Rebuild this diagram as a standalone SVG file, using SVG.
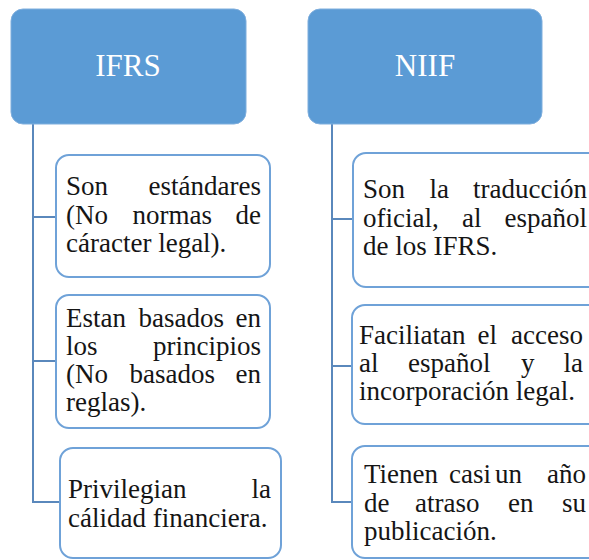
<svg xmlns="http://www.w3.org/2000/svg" width="589" height="560" viewBox="0 0 589 560">
<style>
.hdr{fill:#5B9BD5;stroke:#7FAEDD;stroke-width:1}
.hdrt{font-family:'Liberation Serif','Times New Roman',serif;font-size:31px;fill:#FFFFFF;text-anchor:middle}
.box{fill:#FFFFFF;stroke:#6FA2D8;stroke-width:2}
.t{font-family:'Liberation Serif','Times New Roman',serif;font-size:27px;fill:#151515}
.e{text-anchor:end}
.con{fill:none;stroke:#5A88BC;stroke-width:2}
</style>
<rect width="589" height="560" fill="#FFFFFF"/>
<g id="connectors">
<path class="con" d="M33,124 V502 H60 M33,217 H56 M33,361 H56"/>
<path class="con" d="M332,124 V502 H352 M332,219 H353 M332,366 H352"/>
</g>
<g id="ifrs">
<rect class="hdr" x="11" y="9" width="235" height="115" rx="12"/>
<text class="hdrt" x="128" y="76">IFRS</text>
</g>
<g id="niif">
<rect class="hdr" x="308" y="9" width="234" height="115" rx="12"/>
<text class="hdrt" x="425" y="76">NIIF</text>
</g>
<g id="ifrs1">
<rect class="box" x="56" y="155" width="214" height="122" rx="13"/>
<text class="t" x="66" y="195">Son</text><text class="t e" x="261" y="195">estándares</text>
<text class="t" x="66" y="223.5">(No</text><text class="t" x="132.5" y="223.5">normas</text><text class="t e" x="261" y="223.5">de</text>
<text class="t" x="66" y="252">cáracter legal).</text>
</g>
<g id="ifrs2">
<rect class="box" x="56" y="295" width="214" height="133" rx="13"/>
<text class="t" x="66" y="327">Estan</text><text class="t" x="138.5" y="327">basados</text><text class="t e" x="261" y="327">en</text>
<text class="t" x="66" y="355">los</text><text class="t e" x="261" y="355">principios</text>
<text class="t" x="66" y="383">(No</text><text class="t" x="129.5" y="383">basados</text><text class="t e" x="261" y="383">en</text>
<text class="t" x="66" y="411">reglas).</text>
</g>
<g id="ifrs3">
<rect class="box" x="60" y="448" width="221" height="110" rx="13"/>
<text class="t" x="68" y="498">Privilegian</text><text class="t e" x="271" y="498">la</text>
<text class="t" x="68" y="527">cálidad financiera.</text>
</g>
<g id="niif1">
<rect class="box" x="353" y="153" width="250" height="134" rx="13"/>
<text class="t" x="363" y="198">Son</text><text class="t" x="429.5" y="198">la</text><text class="t e" x="587" y="198">traducción</text>
<text class="t" x="363" y="226.5">oficial,</text><text class="t" x="462" y="226.5">al</text><text class="t e" x="587" y="226.5">español</text>
<text class="t" x="363" y="255">de los IFRS.</text>
</g>
<g id="niif2">
<rect class="box" x="352" y="305" width="250" height="119" rx="13"/>
<text class="t" x="359" y="344">Faciliatan</text><text class="t" x="477.5" y="344">el</text><text class="t e" x="583" y="344">acceso</text>
<text class="t" x="359" y="372">al</text><text class="t" x="408" y="372">español</text><text class="t" x="521" y="372">y</text><text class="t e" x="583" y="372">la</text>
<text class="t" x="359" y="400">incorporación legal.</text>
</g>
<g id="niif3">
<rect class="box" x="352" y="446" width="250" height="112" rx="13"/>
<text class="t" x="364" y="483">Tienen</text><text class="t" x="449" y="483">casi</text><text class="t" x="495" y="483">un</text><text class="t e" x="586" y="483">año</text>
<text class="t" x="364" y="511.5">de</text><text class="t" x="415" y="511.5">atraso</text><text class="t" x="508" y="511.5">en</text><text class="t e" x="586" y="511.5">su</text>
<text class="t" x="364" y="540">publicación.</text>
</g>
</svg>
